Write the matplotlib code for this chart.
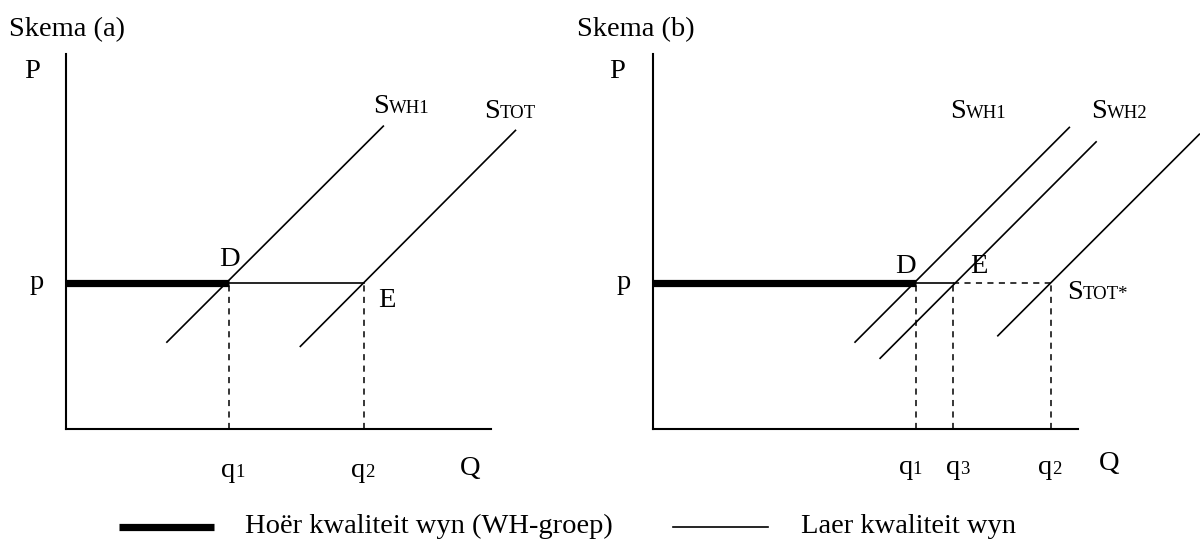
import matplotlib
matplotlib.use("Agg")
import matplotlib.pyplot as plt
from matplotlib.lines import Line2D

plt.rcParams['font.family'] = ['Liberation Serif', 'DejaVu Serif']

# ---------------- data (economic units) ----------------
# Panel (a)
a_p = 3.43
a_q1 = 3.84
a_q2 = 7.01
a_swh1_q = [2.36, 7.48]
a_swh1_p = [2.03, 7.14]
a_stot_q = [5.50, 10.59]
a_stot_p = [1.93, 7.04]

# Panel (b)
b_p = 3.43
b_q1 = 6.19
b_q3 = 7.06
b_q2 = 9.36
b_swh1_q = [4.74, 9.81]
b_swh1_p = [2.03, 7.11]
b_swh2_q = [5.33, 10.44]
b_swh2_p = [1.65, 6.77]
b_stot_q = [8.10, 12.87]
b_stot_p = [2.18, 6.95]

titles = ["Skema (a)", "Skema (b)"]
legend_labels = ["Hoër kwaliteit wyn (WH-groep)", "Laer kwaliteit wyn"]

W, H = 1200, 540
fig = plt.figure(figsize=(W / 100, H / 100), dpi=100)

FS = 20.5
FS_SUB = 13.5
XMAX = 10.0
YMAX = 375 / 42.5


def make_ax(left_px):
    ax = fig.add_axes([left_px / W, (H - 429) / H, 425 / W, 375 / H])
    ax.set_xlim(0, XMAX)
    ax.set_ylim(0, YMAX)
    for s in ['top', 'right']:
        ax.spines[s].set_visible(False)
    for s in ['left', 'bottom']:
        ax.spines[s].set_linewidth(1.5)
    ax.set_xticks([])
    ax.set_yticks([])
    ax.patch.set_alpha(0)
    return ax


def label(ax, x, y, main, sub=None, fs=FS, ha='left'):
    t = ax.text(x, y, main, fontsize=fs, ha=ha, va='baseline', clip_on=False)
    if sub:
        ax.annotate(sub, xy=(1, y), xycoords=(t, 'data'), fontsize=FS_SUB,
                    ha='left', va='baseline', annotation_clip=False)
    return t


def ctext(ax, x, y, s):
    ax.text(x, y, s, fontsize=FS, ha='center', va='baseline', clip_on=False)


DASH = dict(color='black', lw=1.1, dashes=(4, 3.5))
SUP = dict(color='black', lw=1.2, solid_capstyle='butt', clip_on=False)

# ---------------- panel (a) ----------------
ax = make_ax(66)
ax.plot([0, a_q1], [a_p, a_p], color='black', lw=5.2, solid_capstyle='butt')
ax.plot([a_q1, a_q2], [a_p, a_p], color='black', lw=1.2)
ax.plot([a_q1, a_q1], [0, a_p], **DASH)
ax.plot([a_q2, a_q2], [0, a_p], **DASH)
ax.plot(a_swh1_q, a_swh1_p, **SUP)
ax.plot(a_stot_q, a_stot_p, **SUP)

ctext(ax, -0.79, 8.25, "P")
ctext(ax, -0.68, 3.29, "p")
ctext(ax, 3.85, 3.835, "D")
ctext(ax, 7.54, 2.88, "E")
ctext(ax, 9.52, -1.08, "Q")
label(ax, 3.65, -1.12, "q", "1")
label(ax, 6.71, -1.12, "q", "2")
label(ax, 7.22, 7.43, "S", "WH1")
label(ax, 9.84, 7.32, "S", "TOT")

# ---------------- panel (b) ----------------
bx = make_ax(653)
bx.plot([0, b_q1], [b_p, b_p], color='black', lw=5.2, solid_capstyle='butt')
bx.plot([b_q1, b_q3], [b_p, b_p], color='black', lw=1.2)
bx.plot([b_q3, b_q2], [b_p, b_p], **DASH)
bx.plot([b_q1, b_q1], [0, b_p], **DASH)
bx.plot([b_q3, b_q3], [0, b_p], **DASH)
bx.plot([b_q2, b_q2], [0, b_p], **DASH)
bx.plot(b_swh1_q, b_swh1_p, **SUP)
bx.plot(b_swh2_q, b_swh2_p, **SUP)
bx.plot(b_stot_q, b_stot_p, **SUP)

ctext(bx, -0.85, 8.25, "P")
ctext(bx, -0.69, 3.29, "p")
ctext(bx, 5.95, 3.67, "D")
ctext(bx, 7.67, 3.67, "E")
ctext(bx, 10.73, -0.97, "Q")
label(bx, 5.78, -1.06, "q", "1")
label(bx, 6.90, -1.06, "q", "3")
label(bx, 9.06, -1.06, "q", "2")
label(bx, 6.99, 7.32, "S", "WH1")
label(bx, 10.32, 7.32, "S", "WH2")
label(bx, 9.74, 3.05, "S", "TOT*")

# ---------------- titles ----------------
fig.text(9 / W, 1 - 36 / H, titles[0], fontsize=FS, ha='left', va='baseline')
fig.text(577 / W, 1 - 36 / H, titles[1], fontsize=FS, ha='left', va='baseline')

# ---------------- legend ----------------
ly = 1 - 527 / H
fig.add_artist(Line2D([119 / W, 214 / W], [ly, ly], color='black', lw=5.2,
                      solid_capstyle='butt', transform=fig.transFigure))
fig.add_artist(Line2D([673 / W, 768 / W], [ly, ly], color='black', lw=1.2,
                      transform=fig.transFigure))
fig.text(245 / W, 1 - 533 / H, legend_labels[0], fontsize=FS, ha='left', va='baseline')
fig.text(801 / W, 1 - 533 / H, legend_labels[1], fontsize=FS, ha='left', va='baseline')

fig.savefig("out.png", dpi=100)
